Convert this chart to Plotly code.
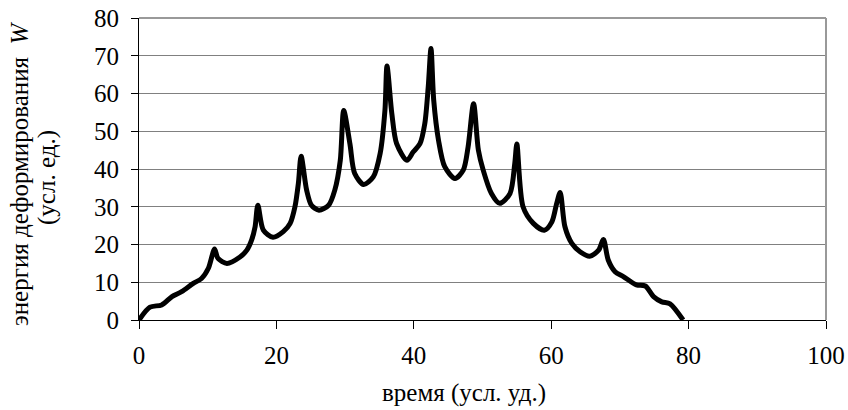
import plotly.graph_objects as go

time_vals = [0, 1.6, 3.3, 4.8, 6.2, 7.9, 9.1, 10.1, 11.0, 11.5, 12.8, 14.7, 15.7, 16.4, 16.9, 17.3,
             18.1, 19.5, 21.0, 22.0, 22.7, 23.2, 23.6, 24.4, 25.1, 26.2, 27.6, 28.5, 29.3, 29.8,
             30.7, 31.4, 32.7, 34.1, 35.1, 35.8, 36.1, 36.8, 37.5, 39.0, 39.9, 40.9, 41.6, 42.1, 42.5,
             42.9, 43.6, 44.5, 46.0, 47.2, 47.9, 48.7, 49.4, 50.1, 51.3, 52.5, 54.0, 54.7, 55.0,
             55.9, 57.4, 59.0, 60.1, 60.8, 61.3, 62.0, 63.0, 64.2, 65.6, 66.9, 67.6,
             68.3, 69.3, 70.5, 72.4, 73.7, 74.9, 76.1, 77.3, 79.2]
energy_vals = [0, 3.4, 4.0, 6.2, 7.5, 9.7, 11.0, 13.7, 18.8, 16.3, 15.0, 16.7, 18.5, 21.2, 24.7, 30.4,
               23.8, 21.9, 23.4, 25.6, 30.0, 36.2, 43.4, 34.4, 30.4, 29.1, 30.4, 34.4, 42.3, 55.5,
               46.7, 38.8, 35.9, 37.9, 44.1, 55.6, 67.3, 54.7, 46.7, 42.3, 44.5, 46.7, 52.0, 61.7, 71.9,
               58.2, 47.6, 40.6, 37.5, 39.7, 45.8, 57.3, 45.0, 39.7, 33.5, 30.9, 33.5, 41.5, 46.6,
               30.0, 25.6, 23.8, 26.0, 30.9, 33.8, 24.7, 20.3, 18.1, 16.9, 18.5, 21.3,
               15.9, 12.8, 11.5, 9.3, 9.0, 6.2, 4.8, 4.3, 0]
assert len(time_vals) == len(energy_vals)

x_ticks = [0, 20, 40, 60, 80, 100]
y_ticks = [0, 10, 20, 30, 40, 50, 60, 70, 80]

FONT = "Liberation Serif"
FS = 25

# plot area at x 139..826, y 18..320 in the 848x410 window
PL, PR, PT, PB = 139, 826, 18, 320
W, H = 848, 410

fig = go.Figure()
fig.add_trace(go.Scatter(x=time_vals, y=energy_vals, mode="lines",
                         line=dict(color="black", width=5, shape="spline", smoothing=0.8),
                         showlegend=False, hoverinfo="skip"))

fig.update_layout(
    width=W, height=H,
    margin=dict(l=PL, r=W - PR, t=PT, b=H - PB, autoexpand=False),
    paper_bgcolor="white", plot_bgcolor="white",
    font=dict(family=FONT, size=FS, color="black"),
    showlegend=False,
)
fig.update_xaxes(range=[0, 100], tickvals=x_ticks, ticktext=[str(v) for v in x_ticks],
                 showgrid=False, zeroline=False, showline=True, linecolor="black", linewidth=1,
                 ticks="outside", ticklen=8, tickcolor="black", tickwidth=1,
                 ticklabelstandoff=5, ticklabeloverflow="allow",
                 tickfont=dict(family=FONT, size=FS), fixedrange=True, automargin=False)
fig.update_yaxes(range=[0, 80], tickvals=y_ticks, ticktext=[str(v) for v in y_ticks],
                 showgrid=True, gridcolor="#808080", gridwidth=1,
                 zeroline=False, showline=True, linecolor="black", linewidth=1,
                 ticks="outside", ticklen=7, tickcolor="black", tickwidth=1,
                 ticklabelstandoff=7, ticklabeloverflow="allow",
                 tickfont=dict(family=FONT, size=FS), fixedrange=True, automargin=False)

# gray plot-area border top and right
fig.add_shape(type="line", xref="x domain", yref="y domain", x0=0, x1=1, y0=1, y1=1,
              line=dict(color="#999999", width=2))
fig.add_shape(type="line", xref="x domain", yref="y domain", x0=1, x1=1, y0=0, y1=1,
              line=dict(color="#999999", width=2))

pw, ph = PR - PL, PB - PT
fig.add_annotation(text="время (усл. уд.)", xref="paper", yref="paper",
                   x=(464 - PL) / pw, y=-(393 - PB) / ph, xanchor="center", yanchor="middle",
                   showarrow=False, font=dict(family=FONT, size=FS))
fig.add_annotation(text="энергия деформирования  <i>W</i>", xref="paper", yref="paper",
                   x=-(PL - 19) / pw, y=(PB - 174) / ph, xanchor="center", yanchor="middle",
                   textangle=-90, showarrow=False, font=dict(family=FONT, size=FS))
fig.add_annotation(text="(усл. ед.)", xref="paper", yref="paper",
                   x=-(PL - 47) / pw, y=(PB - 178) / ph, xanchor="center", yanchor="middle",
                   textangle=-90, showarrow=False, font=dict(family=FONT, size=FS))

fig.write_html("out.html", config={"displayModeBar": False},
               post_script="document.body.style.margin='0';document.body.style.overflow='hidden';")
